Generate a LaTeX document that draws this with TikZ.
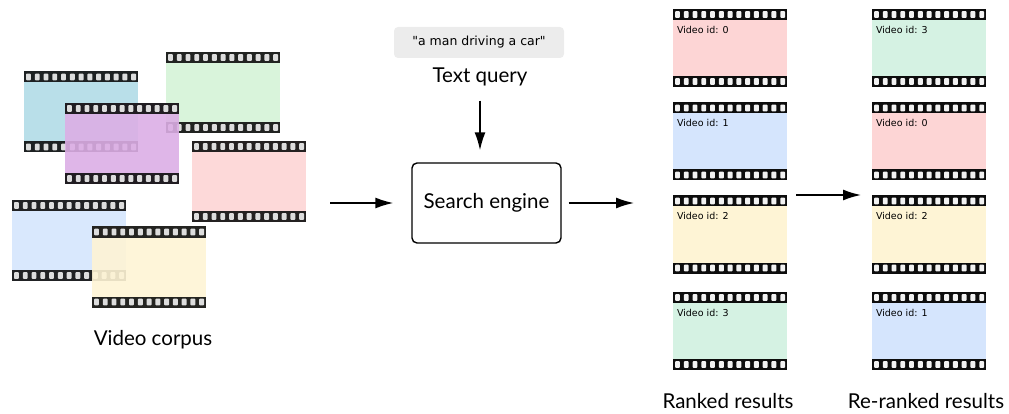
\documentclass[tikz,border=0pt]{standalone}
\usepackage{fontspec}
\setmainfont{Lato}
\newfontfamily\smallfont{DejaVu Sans}
\usetikzlibrary{arrows.meta}

\definecolor{cblue}{HTML}{B1DCE7}
\definecolor{cpurple}{HTML}{DCAEE5}
\definecolor{cgreen}{HTML}{D5F3D7}
\definecolor{cred}{HTML}{FDD5D5}
\definecolor{csky}{HTML}{D5E5FD}
\definecolor{cyellow}{HTML}{FEF4D5}
\definecolor{cmint}{HTML}{D5F2E3}
\definecolor{chole}{HTML}{F2F2F2}
\definecolor{cquery}{HTML}{ECECEC}

\tikzset{
	film/.style={rectangle, inner sep=0pt, minimum width=114pt, minimum height=81pt, fill=#1, path picture={
		\fill[black!95] (path picture bounding box.north west) rectangle ([yshift=-11pt]path picture bounding box.north east);
		\fill[black!95] (path picture bounding box.south west) rectangle ([yshift=11pt]path picture bounding box.south east);
		\foreach \i in {0,...,12}{
			\fill[chole, rounded corners=0.8pt] ([xshift=\i*8.77pt+2pt, yshift=-2.2pt]path picture bounding box.north west) rectangle ++(4.9pt,-6.6pt);
			\fill[chole, rounded corners=0.8pt] ([xshift=\i*8.77pt+2pt, yshift=2.2pt]path picture bounding box.south west) rectangle ++(4.9pt,6.6pt);
		}
	}},
	result/.style={film=#1, minimum height=78pt},
	vid/.style={anchor=north west, inner sep=0pt, font=\smallfont\fontsize{9.5}{11}\selectfont},
	caption/.style={font=\fontsize{20.5}{24}\selectfont},
	arr/.style={-{Latex[length=18pt, width=11pt]}, line width=1.5pt},
}

\begin{document}
\begin{tikzpicture}[x=1pt, y=-1pt]
	\useasboundingbox (0,0) rectangle (1009,414);
	% video corpus
	\node[film=cblue, opacity=0.9] (c1) at (81, 112) {};
	\node[film=cgreen, opacity=0.9] (c2) at (223, 92.5) {};
	\node[film=cpurple, opacity=0.9] (c3) at (122, 143.5) {};
	\node[film=cred, opacity=0.9] (c4) at (249, 181.5) {};
	\node[film=csky, opacity=0.9] (c5) at (69, 240.5) {};
	\node[film=cyellow, opacity=0.9] (c6) at (149, 267) {};
	\node[caption] (corpus) at (153, 340) {Video corpus};

	% query and engine
	\node[fill=cquery, rounded corners=4pt, minimum width=170pt, minimum height=31pt, font=\smallfont\fontsize{12.5}{15}\selectfont] (query) at (479, 42.5) {"a man driving a car"};
	\node[caption] (qlabel) at (480, 77) {Text query};
	\node[draw, rounded corners=5pt, line width=1.4pt, minimum width=149pt, minimum height=80pt, caption] (search) at (486.5, 203) {Search engine};

	% ranked results
	\node[result=cred] (r0) at (730, 48) {};
	\node[result=csky] (r1) at (730, 141.5) {};
	\node[result=cyellow] (r2) at (730, 234.5) {};
	\node[result=cmint] (r3) at (730, 331) {};
	\node[vid] (r0id) at ([xshift=4pt, yshift=-17pt]r0.north west) {Video id: 0};
	\node[vid] (r1id) at ([xshift=4pt, yshift=-17pt]r1.north west) {Video id: 1};
	\node[vid] (r2id) at ([xshift=4pt, yshift=-17pt]r2.north west) {Video id: 2};
	\node[vid] (r3id) at ([xshift=4pt, yshift=-17pt]r3.north west) {Video id: 3};
	\node[caption] (ranked) at (728, 401) {Ranked results};

	% re-ranked results
	\node[result=cmint] (s0) at (929, 48) {};
	\node[result=cred] (s1) at (929, 141.5) {};
	\node[result=cyellow] (s2) at (929, 234.5) {};
	\node[result=csky] (s3) at (929, 331) {};
	\node[vid] (s0id) at ([xshift=4pt, yshift=-17pt]s0.north west) {Video id: 3};
	\node[vid] (s1id) at ([xshift=4pt, yshift=-17pt]s1.north west) {Video id: 0};
	\node[vid] (s2id) at ([xshift=4pt, yshift=-17pt]s2.north west) {Video id: 2};
	\node[vid] (s3id) at ([xshift=4pt, yshift=-17pt]s3.north west) {Video id: 1};
	\node[caption] (reranked) at (926, 401) {Re-ranked results};

	% arrows
	\coordinate (corpusout) at (330, 203);
	\coordinate (rankin) at (634, 203);
	\coordinate (rrfrom) at (796, 195);
	\coordinate (rrto) at (861, 195);
	\draw[arr, shorten >=18pt] (corpusout) -- (search.west);
	\draw[arr, shorten <=7pt] (search.east) -- (rankin);
	\draw[arr, shorten <=11pt, shorten >=12pt] (qlabel.south) -- (qlabel.south |- search.north);
	\draw[arr] (rrfrom) -- (rrto);
\end{tikzpicture}
\end{document}
